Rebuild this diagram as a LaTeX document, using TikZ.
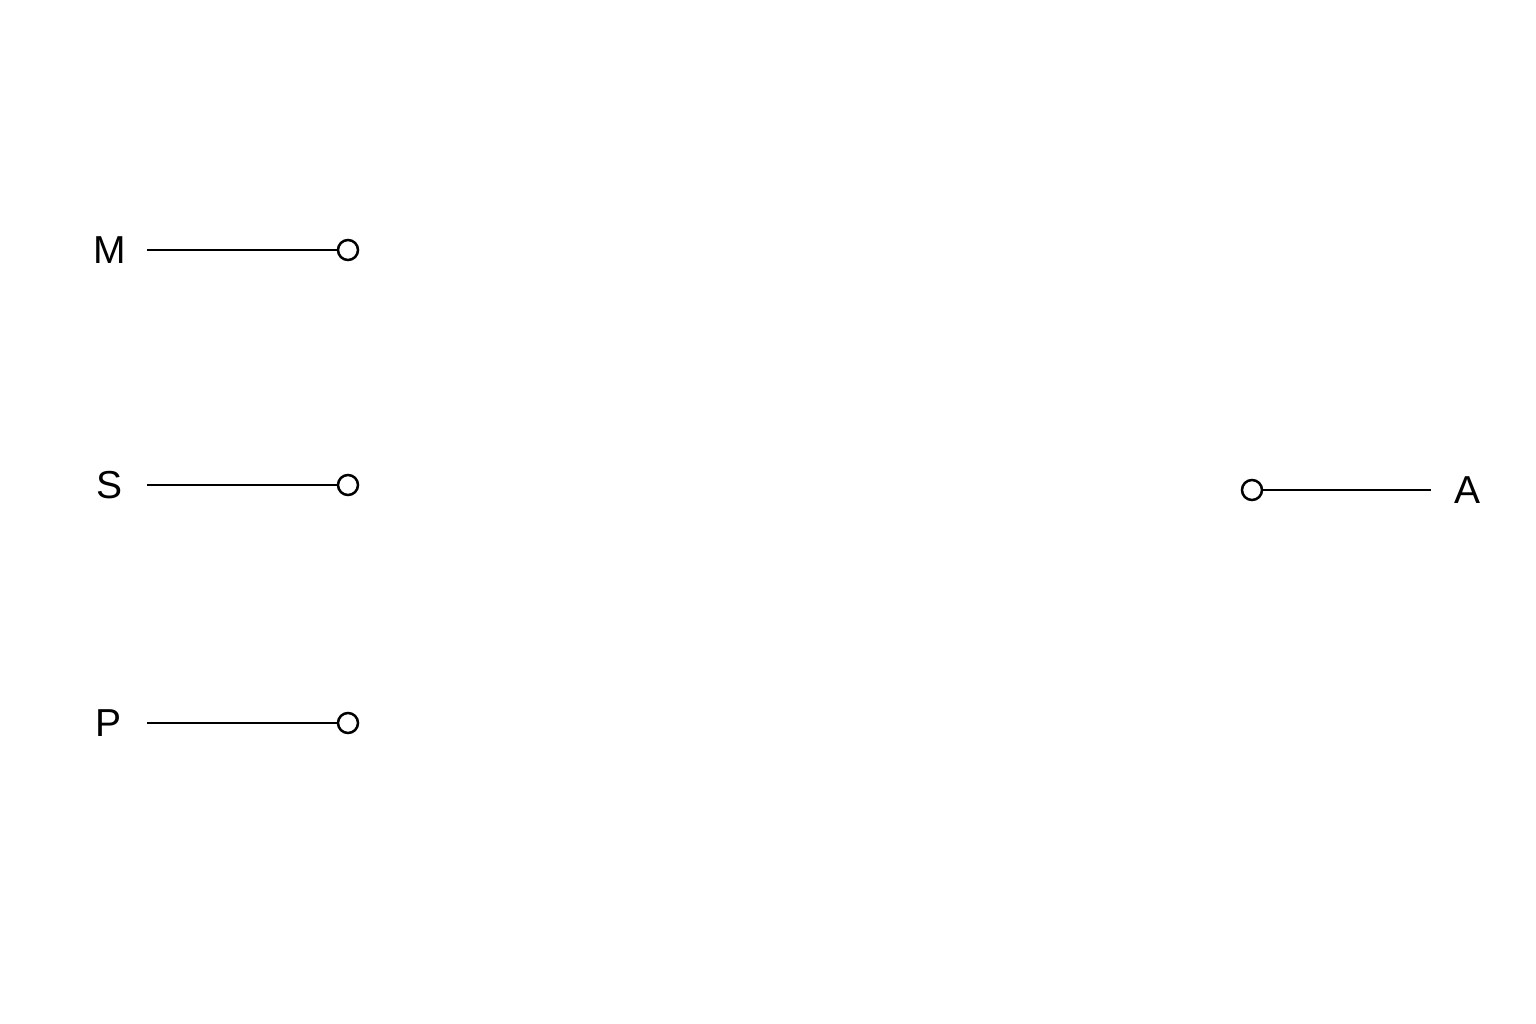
\documentclass[tikz,border=0pt]{standalone}
\usepackage{fontspec}
\setmainfont{Liberation Sans}
\begin{document}
\begin{tikzpicture}[x=1pt,y=-1pt,
  lbl/.style={font=\fontsize{39}{42}\selectfont, inner sep=0pt, anchor=center},
  term/.style={circle, draw=black, line width=2.5pt, minimum size=20pt, inner sep=0pt, fill=white},
  wire/.style={draw=black, line width=2.7pt}]
\useasboundingbox (0,0) rectangle (1536,1024);
\fill[white] (0,0) rectangle (1536,1024);
% M
\node[lbl] (lM) at (110,250) {M};
\coordinate (sM) at (147,250);
\node[term] (cM) at (348,250) {};
\draw[wire] (sM) -- (cM);
% S
\node[lbl] (lS) at (110,485) {S};
\coordinate (sS) at (147,485);
\node[term] (cS) at (348,485) {};
\draw[wire] (sS) -- (cS);
% P
\node[lbl] (lP) at (109,723) {P};
\coordinate (sP) at (147,723);
\node[term] (cP) at (348,723) {};
\draw[wire] (sP) -- (cP);
% A
\node[lbl] (lA) at (1467,490) {A};
\coordinate (eA) at (1431,490);
\node[term] (cA) at (1252,490) {};
\draw[wire] (cA) -- (eA);
\end{tikzpicture}
\end{document}
